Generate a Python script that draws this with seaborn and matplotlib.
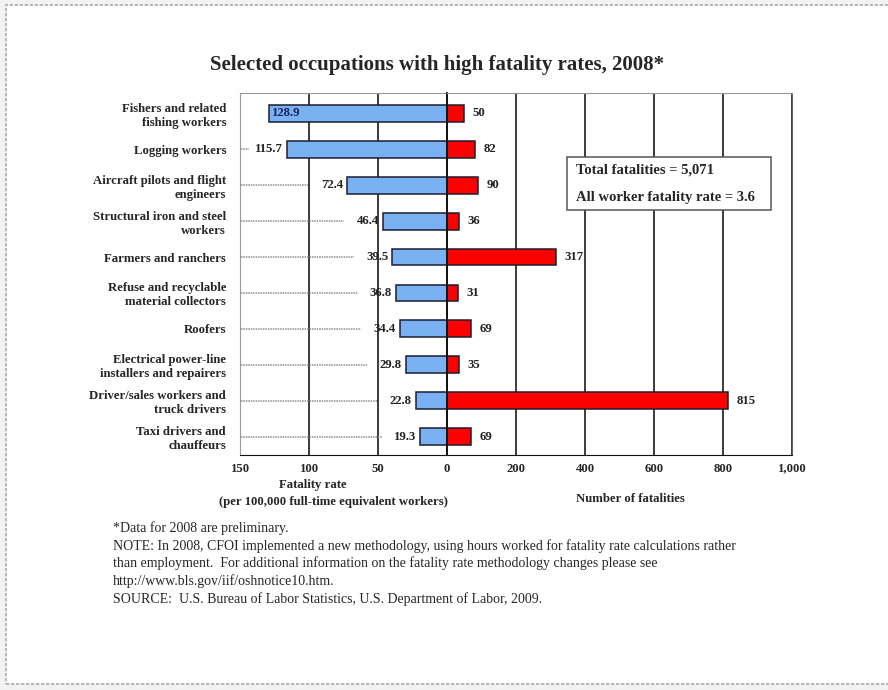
import matplotlib
matplotlib.use("Agg")
import matplotlib.pyplot as plt
from matplotlib.patches import Rectangle
import seaborn as sns
import pandas as pd

# ---- data -------------------------------------------------------------
occupations = [
    "Fishers and related\nfishing workers",
    "Logging workers",
    "Aircraft pilots and flight\nengineers",
    "Structural iron and steel\nworkers",
    "Farmers and ranchers",
    "Refuse and recyclable\nmaterial collectors",
    "Roofers",
    "Electrical power-line\ninstallers and repairers",
    "Driver/sales workers and\ntruck drivers",
    "Taxi drivers and\nchauffeurs",
]
fatality_rate = [128.9, 115.7, 72.4, 46.4, 39.5, 36.8, 34.4, 29.8, 22.8, 19.3]
fatalities = [50, 82, 90, 36, 317, 31, 69, 35, 815, 69]

rate_ticks = [150, 100, 50, 0]
count_ticks = [0, 200, 400, 600, 800, 1000]
count_tick_labels = ["", "200", "400", "600", "800", "1,000"]

total_fatalities = 5071
all_worker_rate = 3.6

title = "Selected occupations with high fatality rates, 2008*"
footnotes = [
    "*Data for 2008 are preliminary.",
    "NOTE: In 2008, CFOI implemented a new methodology, using hours worked for fatality rate calculations rather",
    "than employment.  For additional information on the fatality rate methodology changes please see",
    "http://www.bls.gov/iif/oshnotice10.htm.",
    "SOURCE:  U.S. Bureau of Labor Statistics, U.S. Department of Labor, 2009.",
]

df = pd.DataFrame({"occupation": occupations, "rate": fatality_rate, "count": fatalities})

# ---- style ------------------------------------------------------------
sns.set_style("white")
plt.rcParams["font.family"] = ["Liberation Serif", "DejaVu Serif"]

BLUE = "#79B1F2"
RED = "#FF0000"
EDGE = "#1c1c30"
FS = 9.2

W, H = 888, 690
fig = plt.figure(figsize=(W / 100, H / 100), dpi=100)
fig.patch.set_facecolor("#f2f2f2")


def fx(px):
    return px / W


def fy(py):
    return 1 - py / H


# white page with dotted border, kept underneath everything else
page = Rectangle((fx(6), fy(684)), fx(905) - fx(6), fy(5) - fy(684),
                 transform=fig.transFigure, facecolor="white",
                 edgecolor="#aaaaaa", linestyle=(0, (2, 1)), linewidth=1.2,
                 zorder=-10)
fig.patches.append(page)

top, bottom = 93, 455
axL = fig.add_axes([fx(240), fy(bottom), (447 - 240) / W, (bottom - top) / H])
axR = fig.add_axes([fx(447), fy(bottom), (792 - 447) / W, (bottom - top) / H])
for ax in (axL, axR):
    ax.set_facecolor("none")

YLIM = (9.515, -0.571)

# ---- left: fatality rate ---------------------------------------------
sns.barplot(data=df, x="rate", y="occupation", orient="h", color=BLUE,
            saturation=1, edgecolor=EDGE, linewidth=1.1, width=0.47, ax=axL)
axL.set_xlim(150, 0)
axL.set_ylim(*YLIM)
axL.set_xticks(rate_ticks)
axL.set_xticklabels([str(t) for t in rate_ticks])
axL.set_yticks(range(len(occupations)))
axL.set_yticklabels(occupations, ha="right", multialignment="right",
                    fontweight="bold", fontsize=FS)
for lab in axL.get_yticklabels():
    lab.set_linespacing(1.22)
axL.tick_params(axis="y", length=0, pad=10)
axL.xaxis.grid(True, color="#1a1a1a", linewidth=1.2)
axL.set_axisbelow(True)
axL.set_xlabel("")
axL.set_ylabel("")
axL.spines["right"].set_visible(False)
axL.spines["left"].set_color("#999999")
axL.spines["top"].set_color("#999999")
axL.spines["bottom"].set_color("#111111")

for i, v in enumerate(fatality_rate):
    if v > 125:
        axL.annotate(f"{v}", (v, i), xytext=(2, 0), textcoords="offset points",
                     ha="left", va="center", fontsize=FS, fontweight="bold",
                     color="#1a2458")
    else:
        axL.annotate(f"{v}", (v, i), xytext=(-3, 0), textcoords="offset points",
                     ha="right", va="center", fontsize=FS, fontweight="bold",
                     color="#222222")
        end = v + 28
        if end < 147:
            axL.plot([149, end], [i, i], linestyle=(0, (1, 0.6)),
                     color="#8f8f8f", linewidth=1.1, zorder=1)

# ---- right: number of fatalities --------------------------------------
sns.barplot(data=df, x="count", y="occupation", orient="h", color=RED,
            saturation=1, edgecolor=EDGE, linewidth=1.1, width=0.47, ax=axR)
axR.set_xlim(0, 1000)
axR.set_ylim(*YLIM)
axR.set_xticks(count_ticks)
axR.set_xticklabels(count_tick_labels)
axR.set_yticks([])
axR.set_xlabel("")
axR.set_ylabel("")
axR.xaxis.grid(True, color="#1a1a1a", linewidth=1.2)
axR.set_axisbelow(True)
axR.spines["left"].set_color("#111111")
axR.spines["left"].set_linewidth(1.3)
axR.spines["top"].set_color("#999999")
axR.spines["right"].set_color("#666666")
axR.spines["bottom"].set_color("#111111")

for i, c in enumerate(fatalities):
    axR.annotate(f"{c}", (c, i), xytext=(6, 0), textcoords="offset points",
                 ha="left", va="center", fontsize=FS, fontweight="bold",
                 color="#222222")

for ax in (axL, axR):
    ax.tick_params(axis="x", direction="out", length=4, width=1,
                   color="#111111", labelsize=FS, pad=1.5)
    for lab in ax.get_xticklabels():
        lab.set_fontweight("bold")

# ---- summary box ------------------------------------------------------
box = Rectangle((fx(567), fy(210)), (771 - 567) / W, (210 - 157) / H,
                transform=fig.transFigure, facecolor="white",
                edgecolor="#555555", linewidth=1.1, zorder=5)
fig.patches.append(box)
fig.text(fx(576), fy(170), f"Total fatalities = {total_fatalities:,}",
         ha="left", va="center", fontsize=10.5, fontweight="bold", zorder=6)
fig.text(fx(576), fy(197), f"All worker fatality rate = {all_worker_rate}",
         ha="left", va="center", fontsize=10.5, fontweight="bold", zorder=6)

# ---- titles and axis captions -----------------------------------------
fig.text(fx(437), fy(65), title, ha="center", va="center",
         fontsize=15, fontweight="bold")
fig.text(fx(313), fy(485), "Fatality rate", ha="center", va="center",
         fontsize=9.2, fontweight="bold")
fig.text(fx(333), fy(502), "(per 100,000 full-time equivalent workers)",
         ha="center", va="center", fontsize=9.2, fontweight="bold")
fig.text(fx(630), fy(499), "Number of fatalities", ha="center", va="center",
         fontsize=9.2, fontweight="bold")

# ---- footnotes --------------------------------------------------------
for k, line in enumerate(footnotes):
    fig.text(fx(113), fy(528 + k * 17.7), line, ha="left", va="center",
             fontsize=10)

fig.savefig("out.png", dpi=100, facecolor=fig.get_facecolor())
